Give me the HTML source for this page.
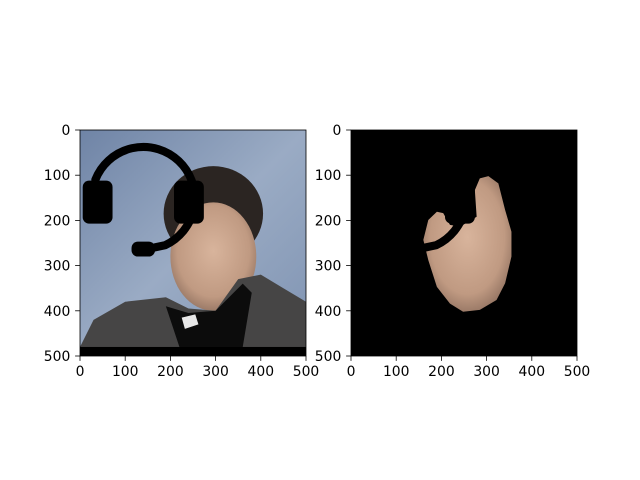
<!DOCTYPE html>
<html><head><meta charset="utf-8"><style>
html,body{margin:0;padding:0;background:#fff;}
svg{display:block;font-family:"DejaVu Sans","Liberation Sans",sans-serif;}
</style></head><body>
<svg id="fig" width="640" height="480" viewBox="0 0 640 480">
<defs>
<linearGradient id="bg" x1="0" y1="0" x2="1" y2="1">
<stop offset="0" stop-color="#6f84a6"/><stop offset="0.5" stop-color="#9aabc4"/><stop offset="1" stop-color="#7f93b2"/>
</linearGradient>
<radialGradient id="skin" cx="0.5" cy="0.45" r="0.6">
<stop offset="0" stop-color="#d8b49c"/><stop offset="0.7" stop-color="#c09a82"/><stop offset="1" stop-color="#8e6f5e"/>
</radialGradient>
<clipPath id="clipL"><rect x="0" y="0" width="500" height="500"/></clipPath>
</defs>
<g id="left" transform="translate(80,130) scale(0.452)">
<g clip-path="url(#clipL)">
<rect width="500" height="500" fill="url(#bg)"/>
<ellipse cx="295" cy="185" rx="110" ry="105" fill="#2b2522"/>
<ellipse cx="295" cy="280" rx="95" ry="120" fill="url(#skin)"/>
<polygon points="0,480 30,420 100,380 190,370 240,395 300,400 350,330 400,320 450,350 500,380 500,480" fill="#464545"/>
<polygon points="190,390 240,405 300,400 360,340 380,360 360,480 220,480" fill="#0c0c0c"/>
<polygon points="225,415 255,408 262,430 232,440" fill="#e8e8e8"/>
<rect x="0" y="480" width="500" height="20" fill="#000"/>
<g>
<path d="M34,110 A114,114 0 1 1 188,255 L150,263" fill="none" stroke="#000" stroke-width="18" stroke-linecap="round"/>
<rect x="6" y="112" width="66" height="95" rx="14" fill="#000"/>
<rect x="208" y="112" width="66" height="95" rx="14" fill="#000"/>
<rect x="114" y="247" width="52" height="33" rx="14" fill="#000"/>
</g>
</g>
</g>
<g id="right" transform="translate(351,130) scale(0.452)">
<rect width="500" height="500" fill="#000"/>
<polygon points="304,102 326,118 341,177 355,225 355,280 341,339 322,376 285,398 248,402 219,384 190,347 171,288 160,243 171,199 190,181 204,184 219,210 241,214 278,192 274,133 285,107" fill="url(#skin)"/>
<g>
<path d="M34,110 A114,114 0 1 1 188,255 L150,263" fill="none" stroke="#000" stroke-width="18" stroke-linecap="round"/>
<rect x="208" y="112" width="66" height="95" rx="14" fill="#000"/>
<rect x="114" y="247" width="52" height="33" rx="14" fill="#000"/>
</g>
</g>
<g id="axes"></g>
</svg>
<script>
const xTicks=[0,100,200,300,400,500];
const yTicks=[0,100,200,300,400,500];
const axesList=[{x:80,name:'left'},{x:351,name:'right'}];
const top0=130,size=226,dmax=500;
const ns='http://www.w3.org/2000/svg';
const g=document.getElementById('axes');
function mk(t,a){const e=document.createElementNS(ns,t);for(const k in a)e.setAttribute(k,a[k]);g.appendChild(e);return e;}
axesList.forEach(ax=>{
  const sx=v=>ax.x+v/dmax*size, sy=v=>top0+v/dmax*size;
  const fr=mk('rect',{x:ax.x,y:top0,width:size,height:size,fill:'none',stroke:'#000','stroke-width':0.8});
  
  
  xTicks.forEach(v=>{
    const l=mk('line',{x1:sx(v),x2:sx(v),y1:top0+size,y2:top0+size+4.9,stroke:'#000','stroke-width':0.8});
    
    
    const t=mk('text',{x:sx(v),y:top0+size+20,'text-anchor':'middle','font-size':13.9});
    t.textContent=v;
    
    
  });
  yTicks.forEach(v=>{
    const l=mk('line',{x1:ax.x-4.9,x2:ax.x,y1:sy(v),y2:sy(v),stroke:'#000','stroke-width':0.8});
    
    
    const t=mk('text',{x:ax.x-9.7,y:sy(v)+5,'text-anchor':'end','font-size':13.9});
    t.textContent=v;
    
    
  });
});
</script>
</body></html>
